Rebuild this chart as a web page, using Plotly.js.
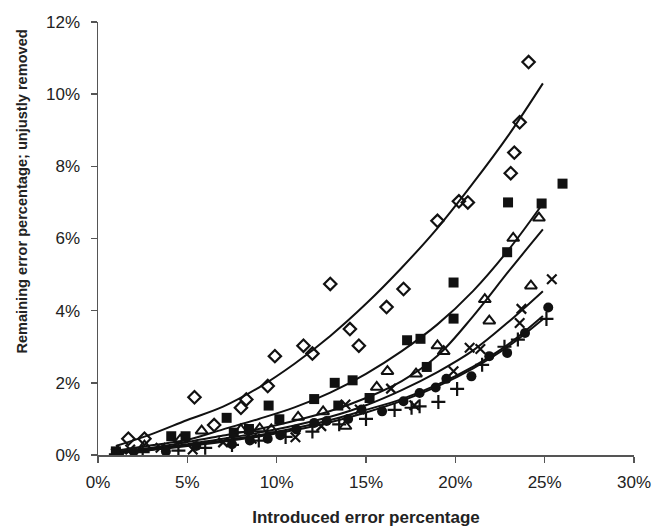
<!DOCTYPE html>
<html>
<head>
<meta charset="utf-8">
<script src="https://cdn.plot.ly/plotly-3.0.1.min.js"></script>
<style>
html,body{margin:0;padding:0;background:#fff;}
#chart{width:653px;height:528px;}
</style>
</head>
<body>
<div id="chart"></div>
<script>
// Introduced error (%) and remaining error (%) per series
const diamondX = [1.7,2.6,5.4,6.5,8.0,8.3,9.5,9.9,11.5,12.0,13.0,14.1,14.6,16.15,17.1,19.0,20.2,20.7,23.1,23.3,23.6,24.1];
const diamondY = [0.45,0.45,1.6,0.83,1.31,1.54,1.91,2.74,3.03,2.81,4.74,3.49,3.03,4.1,4.6,6.49,7.03,7.0,7.81,8.38,9.22,10.89];

const squareX = [1.0,4.1,4.9,7.2,7.6,8.45,9.55,10.15,12.1,13.25,13.45,14.25,15.2,17.3,18.05,18.4,19.9,19.9,22.9,22.95,24.83,26.0];
const squareY = [0.1,0.52,0.52,1.03,0.62,0.72,1.37,0.99,1.55,2.0,1.37,2.07,1.58,3.18,3.22,2.44,3.78,4.78,5.62,7.0,6.97,7.52];

const triX = [1.1,2.6,4.6,5.8,8.0,9.05,9.7,11.2,12.6,13.85,15.6,16.2,17.8,19.0,19.35,21.65,21.9,23.24,24.23,24.68];
const triY = [0.1,0.25,0.42,0.67,0.7,0.73,0.7,1.05,1.2,0.8,1.88,2.32,2.25,3.03,2.87,4.31,3.72,6.01,4.69,6.57];

const crossX = [1.0,1.8,3.5,5.3,7.0,8.6,11.05,12.5,13.85,14.65,16.4,17.7,19.9,20.8,21.4,23.6,23.7,25.4];
const crossY = [0.05,0.15,0.2,0.15,0.35,0.45,0.49,0.8,1.4,1.26,1.84,1.38,2.32,2.97,2.94,3.66,4.05,4.87];

const circleX = [1.0,2.0,3.8,5.5,7.5,8.5,9.5,10.2,11.1,12.1,12.8,14.0,14.75,15.9,17.1,18.0,18.9,19.5,20.9,21.9,22.9,23.9,25.2];
const circleY = [0.02,0.1,0.1,0.25,0.3,0.4,0.45,0.55,0.71,0.89,0.94,1.0,1.26,1.21,1.49,1.72,1.87,2.11,2.18,2.74,2.83,3.38,4.09];

const plusX = [1.0,2.5,4.5,6.0,7.5,9.0,10.5,12.0,13.5,15.0,16.6,17.55,18.0,19.05,20.1,21.5,22.75,23.5,25.1];
const plusY = [0.02,0.08,0.12,0.2,0.28,0.4,0.5,0.65,0.85,1.0,1.25,1.31,1.35,1.47,1.83,2.5,3.0,3.2,3.77];

// Trend lines
const trendX = [1,3,5,7,9,11,13,15,17,19,21,23,24.9];
const diamondTrend = [0.25,0.58,0.97,1.34,1.87,2.53,3.30,4.19,5.19,6.29,7.54,8.88,10.3];
const squareTrend  = [0.12,0.27,0.42,0.71,1.0,1.32,1.73,2.25,2.88,3.62,4.55,5.7,6.97];
const triTrend     = [0.08,0.2,0.36,0.54,0.72,0.95,1.22,1.58,2.05,2.75,3.85,5.1,6.25];
const crossTrend   = [0.08,0.18,0.3,0.45,0.62,0.82,1.06,1.38,1.8,2.3,2.9,3.7,4.54];
const circleTrend  = [0.05,0.15,0.27,0.4,0.55,0.74,0.97,1.25,1.55,1.95,2.45,3.08,3.85];
const plusTrend    = [0.05,0.14,0.25,0.37,0.51,0.69,0.91,1.18,1.5,1.9,2.4,3.02,3.76];

const xTicks = [0,5,10,15,20,25,30];
const yTicks = [0,2,4,6,8,10,12];
const xTitle = 'Introduced error percentage';
const yTitle = 'Remaining error percentage; unjustly removed';

const ink = '#111';
function trend(y){
  return {x: trendX, y: y, mode: 'lines', line: {color: ink, width: 2, shape: 'spline', smoothing: 1}, hoverinfo: 'skip'};
}
function pts(x, y, symbol, size, lw){
  return {x: x, y: y, mode: 'markers', marker: {symbol: symbol, size: size, color: ink, line: {color: ink, width: lw}}};
}

const data = [
  trend(diamondTrend), trend(squareTrend), trend(triTrend),
  trend(crossTrend), trend(circleTrend), trend(plusTrend),
  pts(diamondX, diamondY, 'diamond-open', 9.5, 2.2),
  pts(squareX, squareY, 'square', 10, 0),
  pts(triX, triY, 'triangle-up-open', 10.5, 2),
  pts(crossX, crossY, 'x-thin-open', 9.5, 2.2),
  pts(circleX, circleY, 'circle', 10, 0),
  pts(plusX, plusY, 'cross-thin-open', 10, 2.2)
];

const layout = {
  width: 653, height: 528,
  margin: {l: 98, r: 19, t: 22, b: 73},
  paper_bgcolor: '#fff', plot_bgcolor: '#fff',
  showlegend: false,
  font: {family: 'Liberation Sans, Arial, sans-serif', color: '#222', size: 17},
  xaxis: {
    range: [0, 30], tickvals: xTicks, ticktext: xTicks.map(v => v + '%'),
    showgrid: false, zeroline: false, showline: true, linecolor: '#555', linewidth: 1.5,
    ticks: 'outside', ticklen: 6, tickcolor: '#555', tickwidth: 1.5,
    tickfont: {size: 17, color: '#222'}, ticklabelstandoff: 5,
    title: {text: xTitle, font: {size: 17, color: '#222', weight: 'bold'}, standoff: 20}
  },
  yaxis: {
    range: [0, 12], tickvals: yTicks, ticktext: yTicks.map(v => v + '%'),
    showgrid: false, zeroline: false, showline: true, linecolor: '#555', linewidth: 1.5,
    ticks: 'outside', ticklen: 6, tickcolor: '#555', tickwidth: 1.5,
    tickfont: {size: 17, color: '#222'}, ticklabelstandoff: 7
  },
  annotations: [{
    text: yTitle, xref: 'paper', yref: 'paper', x: -0.142, y: 0.608,
    xanchor: 'center', yanchor: 'middle', textangle: -90, showarrow: false,
    font: {size: 14.6, color: '#222', weight: 'bold'}
  }]
};

Plotly.newPlot('chart', data, layout, {staticPlot: true, displayModeBar: false});
</script>
</body>
</html>
